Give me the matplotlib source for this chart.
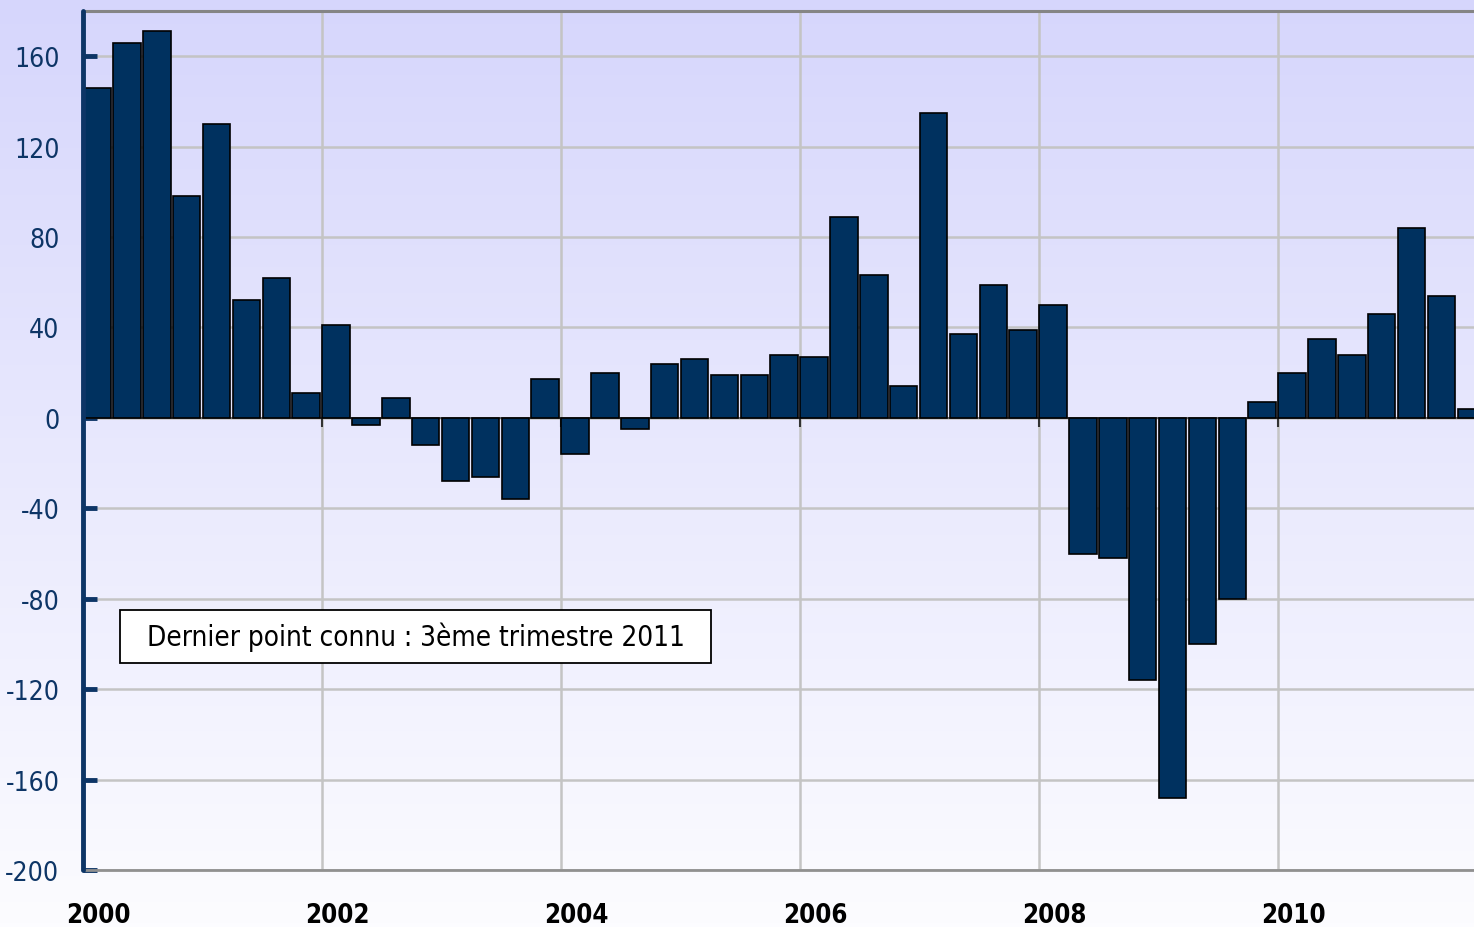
import matplotlib
matplotlib.use('Agg')
import matplotlib.pyplot as plt
import numpy as np
from matplotlib.patches import Rectangle

plt.rcParams['font.family'] = ['Liberation Sans Narrow', 'DejaVu Sans']
plt.rcParams['font.stretch'] = 'condensed'

# quarterly values, 2000Q1 .. 2011Q3
values = [146, 166, 171, 98,
          130, 52, 62, 11,
          41, -3, 9, -12,
          -28, -26, -36, 17,
          -16, 20, -5, 24,
          26, 19, 19, 28,
          27, 89, 63, 14,
          135, 37, 59, 39,
          50, -60, -62, -116,
          -168, -100, -80, 7,
          20, 35, 28, 46,
          84, 54, 4]
quarters = 2000 + np.arange(len(values)) * 0.25
year_ticks = [2000, 2002, 2004, 2006, 2008, 2010]
y_ticks = [-200, -160, -120, -80, -40, 0, 40, 80, 120, 160]
note = 'Dernier point connu : 3ème trimestre 2011'

navy = '#0d3566'
W, H = 1474, 928
fig = plt.figure(figsize=(W / 100, H / 100), dpi=100)

# background gradient over whole figure
bg = fig.add_axes([0, 0, 1, 1], zorder=-10)
grad = np.linspace(0, 1, 256)[:, None]
top = np.array([214, 214, 252]) / 255
bot = np.array([252, 252, 255]) / 255
img = top[None, None, :] * (1 - grad[:, :, None]) + bot[None, None, :] * grad[:, :, None]
bg.imshow(img, aspect='auto', extent=[0, 1, 0, 1])
bg.axis('off')

left, right, y_top, y_bot = 83, 1474, 12, 871
px_per_year = 119.5
ax = fig.add_axes([left / W, 1 - y_bot / H, (right - left) / W, (y_bot - y_top) / H])
ax.patch.set_alpha(0)

ax.bar(quarters + 0.003, values, width=0.25 * 0.92, align='edge', color='#00315f',
       edgecolor='black', linewidth=1.2, zorder=3)

ax.set_xlim(2000, 2000 + (right - left) / px_per_year)
ax.set_ylim(-200, 180)

# major ticks carry the grid, minor ticks (shifted right) carry the labels
ax.set_xticks(year_ticks)
ax.set_xticklabels([])
ax.set_xticks([y + 15 / px_per_year for y in year_ticks], minor=True)
ax.set_xticklabels([str(y) for y in year_ticks], minor=True, fontsize=18.5,
                   fontweight='bold', color='black')
ax.tick_params(axis='x', which='both', length=0)
ax.tick_params(axis='x', which='minor', pad=23)

ax.set_yticks(y_ticks)
ax.set_yticklabels([str(v) for v in y_ticks], fontsize=19, color=navy)
ax.tick_params(axis='y', direction='in', length=10, width=3.5, color=navy, pad=17)

ax.grid(True, which='major', color='#c4c4c4', linewidth=1.8, zorder=0)
ax.set_axisbelow(True)

ax.spines['right'].set_visible(False)
ax.spines['top'].set_color('#858585')
ax.spines['top'].set_linewidth(2.2)
ax.spines['bottom'].set_color('#909090')
ax.spines['bottom'].set_linewidth(2)
ax.spines['left'].set_color(navy)
ax.spines['left'].set_linewidth(3.5)
ax.spines['left'].set_capstyle('round')
ax.spines['left'].set_zorder(5)

# zero line with small ticks at each labelled year
ax.axhline(0, color='#555555', linewidth=1.2, zorder=2)
ax.vlines(year_ticks[1:], -4, 0, color='#333333', linewidth=1.5, zorder=2)

# note box
bx0, bx1, by0, by1 = 120, 711, 611, 664
ax.add_patch(Rectangle((bx0 / W, 1 - by1 / H), (bx1 - bx0) / W, (by1 - by0) / H,
                       transform=fig.transFigure, facecolor='white', edgecolor='black',
                       linewidth=1.3, zorder=6))
fig.text((bx0 + bx1) / 2 / W, 1 - (by0 + by1) / 2 / H, note, ha='center', va='center',
         fontsize=20, color='black', zorder=7)

fig.savefig('out.png', dpi=100)
